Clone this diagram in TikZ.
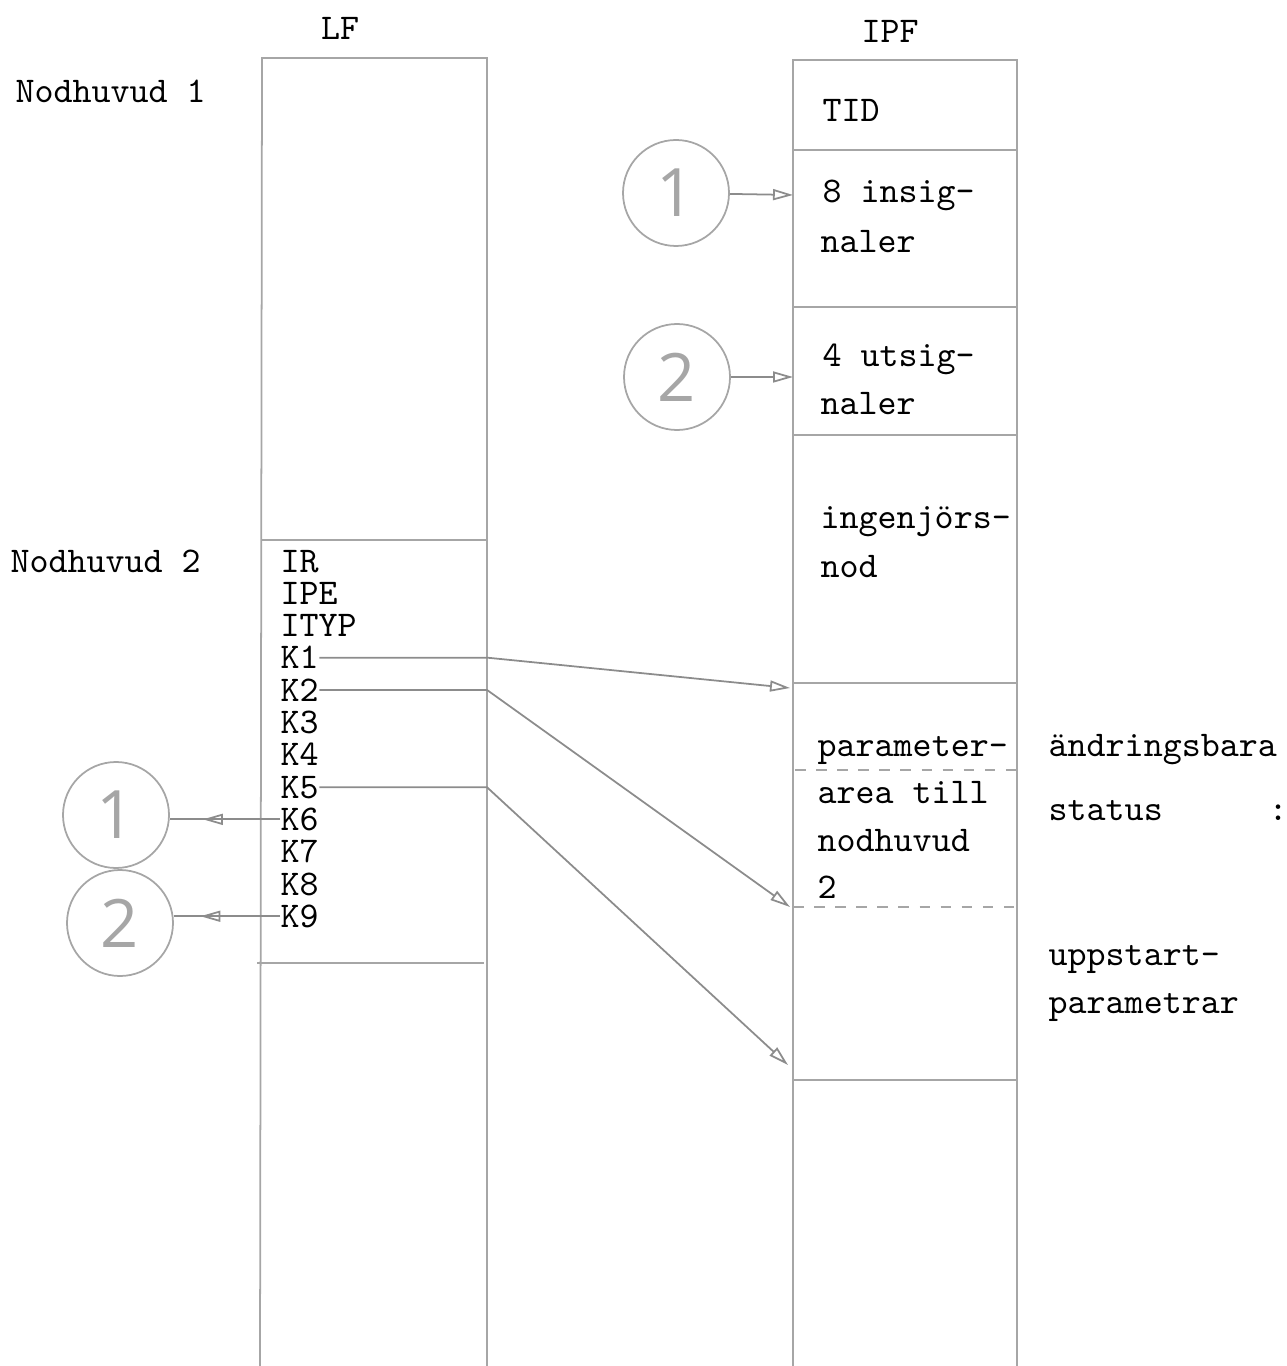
\documentclass[tikz,border=0pt]{standalone}
\usepackage{fontspec}
\newfontfamily\handfont{Open Sans}
\usetikzlibrary{arrows.meta,positioning,decorations.markings}

\tikzset{
  txt/.style={font=\ttfamily\fontsize{10.3}{12}\selectfont,text=black,anchor=base west,inner sep=0pt},
  rule/.style={draw=black!35,line width=0.5pt},
  conn/.style={draw=black!45,line width=0.5pt,-{Triangle[open,length=2mm,width=1.1mm]}},
  midconn/.style={draw=black!45,line width=0.5pt,postaction={decorate},
    decoration={markings,mark=at position #1 with {\arrow{Triangle[open,length=2mm,width=1.1mm]}}}},
  circ/.style={circle,draw=black!35,line width=0.5pt,minimum size=1.06cm,inner sep=0pt,text=black!35,font=\handfont\fontsize{19}{22}\selectfont}
}

\begin{document}
\begin{tikzpicture}[>=Latex]
\useasboundingbox (0,0) rectangle (12.86,-13.66);
% headings
\node[txt,anchor=base] (lf) at (3.40,-0.40) {LF};
\node[txt,anchor=base] (ipf) at (8.90,-0.43) {IPF};
\node[txt] (nh1) at (0.15,-1.03) {Nodhuvud 1};
\node[txt] (nh2) at (0.10,-5.72) {Nodhuvud 2};
% LF column
\draw[rule] (2.60,-13.70) -- (2.62,-0.58) -- (4.87,-0.58) -- (4.87,-13.70);
\draw[rule] (2.62,-5.40) -- (4.87,-5.40);
\draw[rule] (2.57,-9.63) -- (4.84,-9.63);
\coordinate (lfr) at (4.87,0);
\foreach \t [count=\i from 0] in {IR,IPE,ITYP,K1,K2,K3,K4,K5,K6,K7,K8,K9}
  \node[txt] (\t) at (2.80,{-5.72-0.323*\i}) {\t};
% IPF column
\draw[rule] (7.93,-13.70) -- (7.93,-0.60) -- (10.17,-0.60) -- (10.17,-13.70);
\foreach \y in {1.50,3.07,4.35,6.83,10.80}
  \draw[rule] (7.93,-\y) -- (10.17,-\y);
\draw[rule,dashed] (7.95,-7.70) -- (10.17,-7.70);
\draw[rule,dashed] (7.93,-9.07) -- (10.17,-9.07);
\node[txt] (tid) at (8.22,-1.22) {TID};
\node[txt] (ins1) at (8.22,-2.03) {8 insig-};
\node[txt] (ins2) at (8.20,-2.53) {naler};
\node[txt] (uts1) at (8.22,-3.67) {4 utsig-};
\node[txt] (uts2) at (8.20,-4.15) {naler};
\node[txt] (ing1) at (8.20,-5.29) {ingenjörs-};
\node[txt] (ing2) at (8.20,-5.77) {nod};
\node[txt] (par1) at (8.17,-7.56) {parameter-};
\node[txt] (par2) at (8.17,-8.03) {area till};
\node[txt] (par3) at (8.17,-8.51) {nodhuvud};
\node[txt] (par4) at (8.17,-8.98) {2};
% notes to the right
\node[txt] (andr) at (10.48,-7.56) {ändringsbara};
\node[txt] (stat) at (10.48,-8.20) {status};
\node[txt] (colon) at (12.68,-8.20) {:};
\node[txt] (upp1) at (10.48,-9.65) {uppstart-};
\node[txt] (upp2) at (10.48,-10.13) {parametrar};
% circles
\node[circ] (in1) at (6.76,-1.93) {1};
\node[circ] (ut2) at (6.77,-3.77) {2};
\node[circ] (lc1) at (1.16,-8.15) {1};
\node[circ] (lc2) at (1.20,-9.23) {2};
% arrow ends
\coordinate (t1) at (7.93,-1.95);
\coordinate (t2) at (7.93,-3.77);
\coordinate (tk1) at (7.90,-6.88);
\coordinate (tk2) at (7.90,-9.07);
\coordinate (tk5) at (7.88,-10.65);
\draw[conn] (in1) -- (t1);
\draw[conn] (ut2) -- (t2);
\draw[conn] (K1.east) -- (K1.east -| lfr) -- (tk1);
\draw[conn] (K2.east) -- (K2.east -| lfr) -- (tk2);
\draw[conn] (K5.east) -- (K5.east -| lfr) -- (tk5);
\draw[midconn=0.7] (K6.west) -- (K6.west -| lc1.east);
\draw[midconn=0.75] (K9.west) -- (K9.west -| lc2.east);
\end{tikzpicture}
\end{document}
